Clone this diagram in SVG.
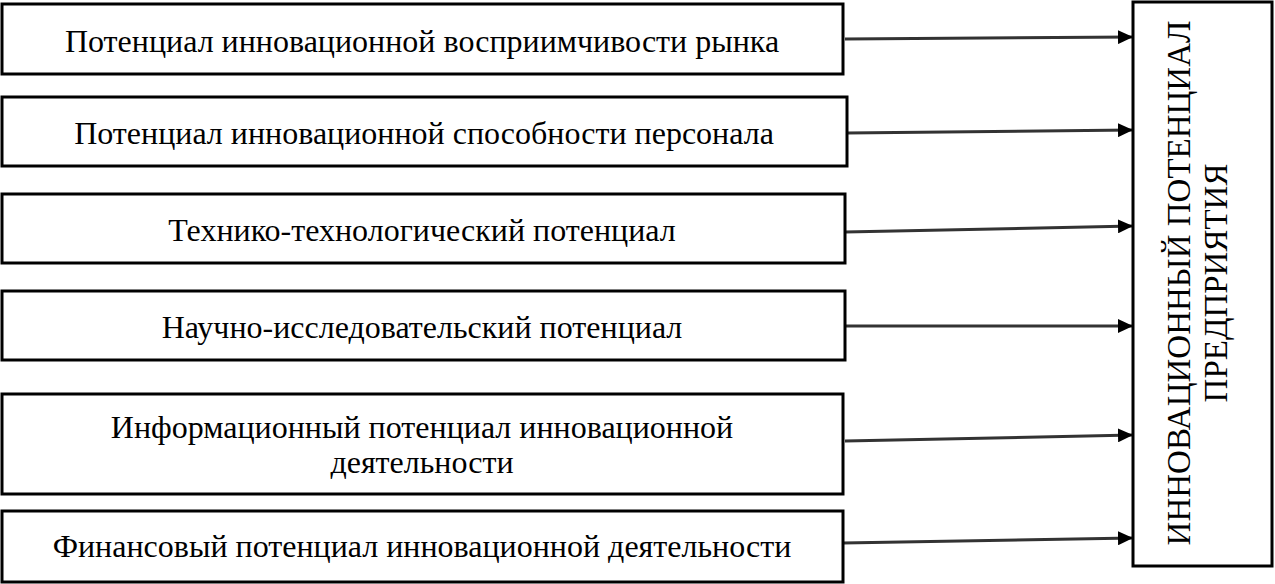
<svg xmlns="http://www.w3.org/2000/svg" width="1275" height="584" viewBox="0 0 1275 584">
<style>
.box{fill:#fff;stroke:#000;stroke-width:3}
.t{font-family:"Liberation Serif","Times New Roman",serif;font-size:32px;fill:#000;text-anchor:middle}
.v{font-family:"Liberation Serif","Times New Roman",serif;font-size:33px;fill:#000;text-anchor:middle}
.c{stroke:#333;stroke-width:3;fill:none;marker-end:url(#ah)}
</style>
<defs>
<marker id="ah" markerUnits="userSpaceOnUse" markerWidth="16" markerHeight="14" refX="15" refY="7" orient="auto">
<path d="M0,0 L15,7 L0,14 Z" fill="#000"/>
</marker>
</defs>
<rect width="1275" height="584" fill="#fff"/>
<g id="connectors">
<line class="c" x1="845" y1="39" x2="1133" y2="37"/>
<line class="c" x1="847" y1="133" x2="1133" y2="130"/>
<line class="c" x1="845" y1="232" x2="1133" y2="226"/>
<line class="c" x1="845" y1="326" x2="1133" y2="326"/>
<line class="c" x1="845" y1="441" x2="1133" y2="435"/>
<line class="c" x1="843" y1="543" x2="1133" y2="538"/>
</g>
<g id="n1"><rect class="box" x="2" y="4" width="841" height="70"/><text class="t" x="422" y="52">Потенциал инновационной восприимчивости рынка</text></g>
<g id="n2"><rect class="box" x="2" y="97" width="845" height="69"/><text class="t" x="424" y="144">Потенциал инновационной способности персонала</text></g>
<g id="n3"><rect class="box" x="2" y="194" width="843" height="69"/><text class="t" x="422" y="241">Технико-технологический потенциал</text></g>
<g id="n4"><rect class="box" x="2" y="291" width="843" height="69"/><text class="t" x="422" y="338">Научно-исследовательский потенциал</text></g>
<g id="n5"><rect class="box" x="2" y="394" width="841" height="100"/><text class="t" x="422" y="438">Информационный потенциал инновационной</text><text class="t" x="422" y="473">деятельности</text></g>
<g id="n6"><rect class="box" x="2" y="511" width="841" height="71"/><text class="t" x="422" y="557">Финансовый потенциал инновационной деятельности</text></g>
<g id="target"><rect class="box" x="1133" y="2" width="139" height="564"/>
<text class="v" transform="translate(1190,283) rotate(-90)">ИННОВАЦИОННЫЙ ПОТЕНЦИАЛ</text>
<text class="v" transform="translate(1227,283) rotate(-90)">ПРЕДПРИЯТИЯ</text></g>
</svg>
